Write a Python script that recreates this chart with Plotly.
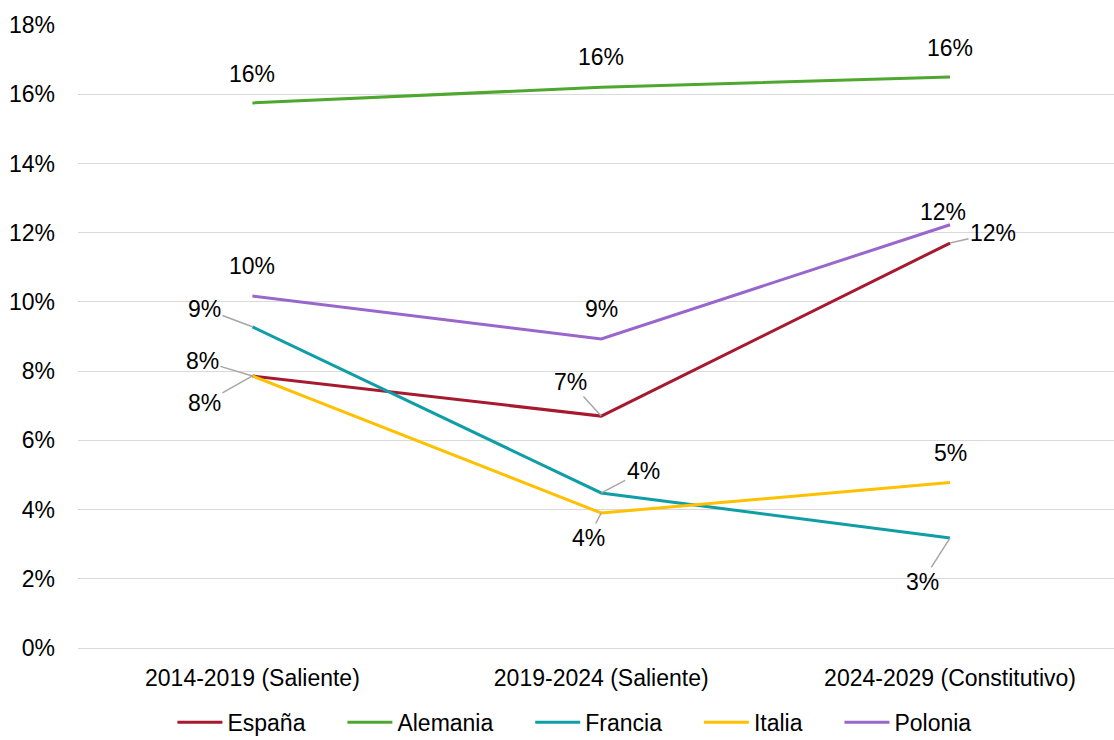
import plotly.graph_objects as go

categories = ["2014-2019 (Saliente)", "2019-2024 (Saliente)", "2024-2029 (Constitutivo)"]
espana = [7.86, 6.70, 11.70]
alemania = [15.75, 16.20, 16.50]
francia = [9.28, 4.48, 3.18]
italia = [7.86, 3.90, 4.78]
polonia = [10.17, 8.93, 12.23]

series = [
    ("España", espana, "#A6192E"),
    ("Alemania", alemania, "#4EA72E"),
    ("Francia", francia, "#0F9EA6"),
    ("Italia", italia, "#FFC000"),
    ("Polonia", polonia, "#9966CC"),
]

# label offsets (pixels) and whether a leader line is drawn
label_offsets = {
    "España": [(-50, -15, True), (-31, -34, True), (43, -10, True)],
    "Alemania": [(0, -29, False), (0, -30, False), (0, -29, False)],
    "Francia": [(-48, -18, True), (42, -22, True), (-28, 44, True)],
    "Italia": [(-48, 27, True), (-13, 25, True), (0, -30, False)],
    "Polonia": [(0, -30, False), (0, -30, False), (-7, -13, False)],
}

FONT = "Liberation Sans, Arial, sans-serif"
FS = 23

fig = go.Figure()
for name, vals, color in series:
    fig.add_trace(go.Scatter(
        x=list(range(len(categories))), y=vals, mode="lines",
        name=name + "\u00a0" * 5,
        line=dict(color=color, width=3),
    ))

annotations = []
for name, vals, color in series:
    for i, v in enumerate(vals):
        ax, ay, leader = label_offsets[name][i]
        annotations.append(dict(
            x=i, y=v, xref="x", yref="y", text=f"{round(v):.0f}%",
            showarrow=True, ax=ax, ay=ay, arrowhead=0, arrowwidth=1.5,
            arrowcolor="#A6A6A6" if leader else "rgba(0,0,0,0)",
            standoff=0, startstandoff=0,
            font=dict(size=FS, color="#000000", family=FONT),
        ))

fig.update_layout(
    width=1114, height=740,
    margin=dict(l=78, r=0, t=25, b=92, autoexpand=False),
    paper_bgcolor="white", plot_bgcolor="white",
    font=dict(family=FONT, size=FS, color="#000000"),
    showlegend=True,
    legend=dict(orientation="h", x=0.53, xanchor="center", xref="container",
                y=0.024, yanchor="middle", yref="container",
                font=dict(size=FS, family=FONT),
                itemwidth=45, tracegroupgap=0),
    annotations=annotations,
    xaxis=dict(tickmode="array", tickvals=list(range(len(categories))), ticktext=categories,
               range=[-0.5, 2.47], showgrid=False, zeroline=False, showline=False,
               ticks="", tickfont=dict(size=FS), ticklabelstandoff=14),
    yaxis=dict(range=[0, 18], dtick=2, ticksuffix="%", showgrid=True, gridcolor="#D9D9D9",
               gridwidth=1.3, zeroline=True, zerolinecolor="#D9D9D9", zerolinewidth=1.3,
               showline=False, ticks="", tickfont=dict(size=FS), ticklabelstandoff=22),
)

fig.write_html("out.html")
